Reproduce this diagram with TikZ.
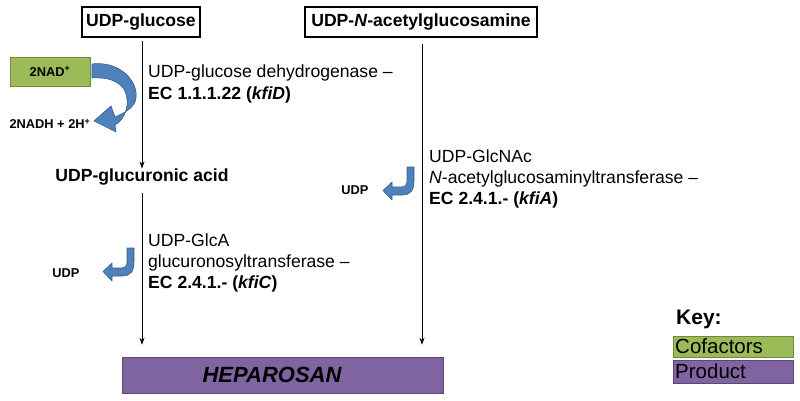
\documentclass[tikz,border=0pt]{standalone}
\usepackage{fontspec}
\setmainfont{Liberation Sans}
\usetikzlibrary{arrows.meta}
\definecolor{cofgreen}{HTML}{9BBB59}
\definecolor{cofgreenedge}{HTML}{71893F}
\definecolor{prodpurple}{HTML}{8064A2}
\definecolor{prodpurpleedge}{HTML}{5C4776}
\definecolor{arrblue}{HTML}{4F81BD}
\definecolor{arrblueedge}{HTML}{385D8A}
\newcommand{\bigtxt}{\fontsize{17.6}{21.3}\selectfont}
\newcommand{\smalltxt}{\fontsize{12.8}{15}\selectfont}
\tikzset{
  compound/.style={draw=black, line width=1.1pt, inner sep=0pt, minimum height=30pt, font=\bigtxt\bfseries},
  plaincompound/.style={inner sep=0pt, font=\bigtxt\bfseries},
  enzyme/.style={align=left, anchor=west, inner sep=0pt, font=\bigtxt},
  side/.style={inner sep=0pt, font=\smalltxt\bfseries},
  flow/.style={-{Stealth[length=7pt,width=5pt]}, line width=0.8pt},
  bluearrow/.style={fill=arrblue, draw=arrblueedge, line width=0.6pt, line join=round},
  keybox/.style={inner xsep=2pt, inner ysep=0pt, anchor=west, text width=116pt, align=left, font=\fontsize{20.5}{22}\selectfont},
}
\begin{document}
\begin{tikzpicture}[x=1pt,y=-1pt]
\useasboundingbox (0,0) rectangle (800,401);
% compounds
\node[compound, minimum width=118pt] (glc) at (141,22) {UDP-glucose};
\node[compound, minimum width=232pt] (nac) at (421,22) {UDP-\textit{N}-acetylglucosamine};
\node[plaincompound] (gla) at (142,177) {UDP-glucuronic acid};
\node[draw=prodpurpleedge, fill=prodpurple, line width=0.6pt, minimum width=321pt, minimum height=36pt, inner sep=0pt] (hep) at (282.5,375) {};
\node[inner sep=0pt, font=\fontsize{22}{24}\selectfont\bfseries\itshape] (heptxt) at (272,375) {HEPAROSAN};
% main connectors
\coordinate (glcout) at (142,41);
\coordinate (nacout) at (422,44);
\draw[flow] (glcout) -- (glcout |- gla.north) ;
\coordinate (glaout) at (142,193);
\draw[flow, shorten >=12pt] (glaout) -- (glaout |- hep.north);
\draw[flow, shorten >=12pt] (nacout) -- (nacout |- hep.north);
% enzymes
\node[enzyme] (e1) at (148,84) {UDP-glucose dehydrogenase –\\\textbf{EC 1.1.1.22 (\textit{kfiD})}};
\node[enzyme] (e2) at (148,263) {UDP-GlcA\\glucuronosyltransferase –\\\textbf{EC 2.4.1.- (\textit{kfiC})}};
\node[enzyme] (e3) at (429,179) {UDP-GlcNAc\\\textit{N}-acetylglucosaminyltransferase –\\\textbf{EC 2.4.1.- (\textit{kfiA})}};
% cofactors
\node[draw=cofgreenedge, fill=cofgreen, line width=0.6pt, minimum width=80pt, minimum height=29pt, inner sep=0pt, font=\smalltxt\bfseries] (nad) at (50,71.5) {2NAD\textsuperscript{+}};
\node[side] (nadh) at (50,124) {2NADH + 2H\textsuperscript{+}};
\path[bluearrow] (92,64) .. controls (124,60) and (143,88) .. (134,104)
  .. controls (130,110) and (124,113) .. (115,117) -- (111,106) -- (94,121)
  -- (116,132) -- (115,125) .. controls (126,119) and (131,102) .. (124,89)
  .. controls (118,81) and (108,77) .. (92,78) -- cycle;
% UDP side products
\node[side] (udp1) at (66,273) {UDP};
\node[side] (udp2) at (355,190) {UDP};
\path[bluearrow] (127,248) -- (134,248) -- (134,262) .. controls (134,272) and (130,276) .. (122,276) -- (112,276) -- (112,281) -- (103,271.5) -- (112,263) -- (112,268) -- (121,268) .. controls (125,268) and (127,266) .. (127,262) -- cycle;
\path[bluearrow] (407,167) -- (414,167) -- (414,181) .. controls (414,191) and (410,195) .. (402,195) -- (392,195) -- (392,200) -- (383,190.5) -- (392,182) -- (392,187) -- (401,187) .. controls (405,187) and (407,185) .. (407,181) -- cycle;
% key
\node[inner sep=0pt, anchor=west, font=\fontsize{21}{23}\selectfont\bfseries] (key) at (676,319) {Key:};
\node[keybox, fill=cofgreen, draw=cofgreenedge, line width=0.4pt, minimum height=21pt] (kc) at (673,346.5) {Cofactors};
\node[keybox, fill=prodpurple, draw=prodpurpleedge, line width=0.4pt, minimum height=23pt] (kp) at (673,371.5) {Product};
\end{tikzpicture}
\end{document}
